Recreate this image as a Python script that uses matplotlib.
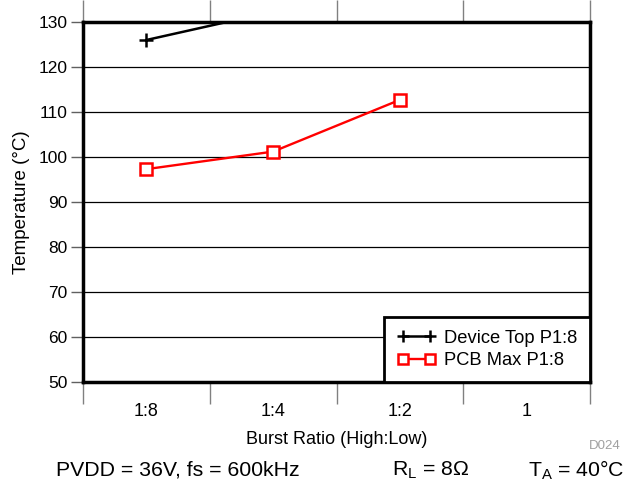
import numpy as np
import matplotlib
matplotlib.use("Agg")
import matplotlib.pyplot as plt
from matplotlib.ticker import FixedLocator, NullFormatter

plt.rcParams['font.family'] = ['Liberation Sans', 'DejaVu Sans']
plt.rcParams['mathtext.fontset'] = 'custom'
plt.rcParams['mathtext.rm'] = 'Liberation Sans'
plt.rcParams['mathtext.it'] = 'Liberation Sans'

categories = ["1:8", "1:4", "1:2", "1"]
device_top = [126.0, 132.3, np.nan, np.nan]
pcb_max = [97.3, 101.2, 112.7, np.nan]
y_ticks = [50, 60, 70, 80, 90, 100, 110, 120, 130]

fig = plt.figure(figsize=(6.37, 4.83), dpi=100)
ax = fig.add_axes([83/637, 1-382/483, (590-83)/637, (382-22)/483])

xc = np.arange(len(categories)) + 0.5
ax.plot(xc, device_top, color='black', lw=1.8, marker='+', ms=10, mew=1.8,
        label='Device Top P1:8', zorder=4)
ax.plot(xc, pcb_max, color='#ff0000', lw=1.7, marker='s', ms=8, mew=1.8,
        mfc='white', mec='#ff0000', label='PCB Max P1:8', zorder=4)

ax.set_xlim(0, len(categories))
ax.set_ylim(50, 130)
ax.set_yticks(y_ticks)
ax.yaxis.grid(True, color='black', lw=0.9)
ax.set_axisbelow(True)

ax.xaxis.set_major_locator(FixedLocator(np.arange(len(categories)+1)))
ax.xaxis.set_major_formatter(NullFormatter())
ax.xaxis.set_minor_locator(FixedLocator(xc))
ax.set_xticklabels(categories, minor=True)
ax.tick_params(axis='x', which='major', direction='out', length=16, width=1,
               color='#808080', top=True, bottom=True)
ax.tick_params(axis='x', which='minor', length=0, pad=15, labelsize=13)
ax.tick_params(axis='y', which='major', direction='out', length=9, width=1,
               color='#606060', labelsize=12.5, pad=2)

for s in ax.spines.values():
    s.set_linewidth(2.5)
    s.set_color('black')

ax.set_ylabel('Temperature (°C)', fontsize=13.5, va='center')
ax.yaxis.set_label_coords((22-83)/507, 0.5)
ax.set_xlabel('Burst Ratio (High:Low)', fontsize=13, va='center')
ax.xaxis.set_label_coords(0.5, (382-440)/360)

leg = ax.legend(loc='lower right', fontsize=13.2, frameon=True, fancybox=False,
                borderaxespad=0, handlelength=2.1, handletextpad=0.45,
                borderpad=0.7, labelspacing=0.3, numpoints=2, markerscale=0.9)
leg.get_frame().set_edgecolor('black')
leg.get_frame().set_linewidth(2.0)
leg.get_frame().set_alpha(1)

fig.text(605/637, 1-446/483, 'D024', color='#a0a0a0', fontsize=9.5, ha='center', va='center')
fig.text(56/637, 1-470/483, 'PVDD = 36V, fs = 600kHz', fontsize=15.3, ha='left', va='center')
fig.text(392/637, 1-470/483, r'R$_\mathrm{L}$ = 8Ω', fontsize=15.3, ha='left', va='center')
fig.text(625/637, 1-470/483, r'T$_\mathrm{A}$ = 40°C', fontsize=15.3, ha='right', va='center')

fig.savefig('out.png', dpi=100)
